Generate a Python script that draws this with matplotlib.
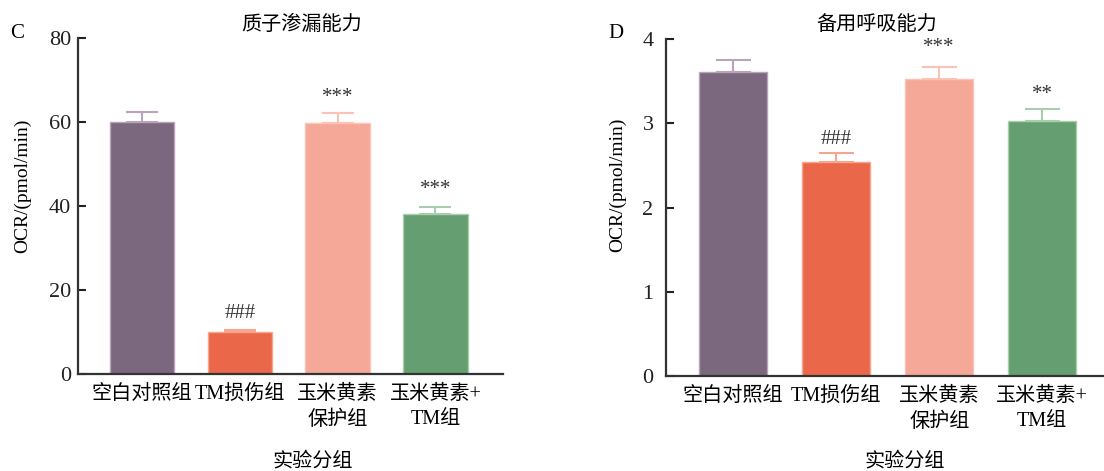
import matplotlib
matplotlib.use("Agg")
import matplotlib.pyplot as plt

plt.rcParams['font.family'] = ['Liberation Serif', 'Noto Sans CJK SC']
plt.rcParams['axes.unicode_minus'] = False

categories = ["空白对照组", "TM损伤组", "玉米黄素\n保护组", "玉米黄素+\nTM组"]
colors = ["#7B687F", "#EA6749", "#F5A898", "#659E70"]
err_colors = ["#B8A3BA", "#F7A58F", "#FBC3B6", "#A9CDAD"]

# Panel C: proton leak
leak_mean = [59.9, 9.9, 59.8, 38.0]
leak_err = [2.6, 0.6, 2.4, 1.7]
leak_marks = ["", "###", "***", "***"]
leak_mark_y = [None, 14.5, 65.8, 44.0]
leak_ticks = [0, 20, 40, 60, 80]

# Panel D: spare respiratory capacity
spare_mean = [3.61, 2.54, 3.53, 3.03]
spare_err = [0.14, 0.105, 0.14, 0.14]
spare_marks = ["", "###", "***", "**"]
spare_mark_y = [None, 2.81, 3.90, 3.35]
spare_ticks = [0, 1, 2, 3, 4]

W, H = 1104, 471
fig = plt.figure(figsize=(W / 100, H / 100), dpi=100)

def panel(rect, means, errs, marks, mark_y, ticks, ylim, xlim, title, letter, letter_pos,
          capsize, ylabel_xy, title_x, xlabel_x, tickpad):
    ax = fig.add_axes(rect)
    x = list(range(len(categories)))
    ax.bar(x, means, width=0.66, color=colors, edgecolor=err_colors, linewidth=1.0, zorder=2)
    for i in x:
        ax.errorbar(i, means[i], yerr=[[0], [errs[i]]], fmt='none', ecolor=err_colors[i],
                    elinewidth=1.5, capsize=capsize, capthick=1.5, zorder=3)
        if marks[i]:
            ax.text(i, mark_y[i], marks[i], ha='center', va='center', fontsize=15, color='#333333')
    ax.set_xlim(*xlim)
    ax.set_ylim(*ylim)
    ax.set_yticks(ticks)
    ax.set_yticklabels([str(t) for t in ticks], fontsize=16)
    ax.set_xticks(x)
    ax.set_xticklabels(categories, fontsize=14.5, linespacing=1.45, va='top')
    ax.tick_params(axis='x', length=0, pad=8)
    ax.tick_params(axis='y', length=6, width=1.5, direction='in', pad=tickpad, colors='#222222')
    for s in ['top', 'right']:
        ax.spines[s].set_visible(False)
    for s in ['left', 'bottom']:
        ax.spines[s].set_linewidth(1.6)
        ax.spines[s].set_color('#333333')
    fig.text(ylabel_xy[0], ylabel_xy[1], "OCR/(pmol/min)", rotation=90, ha='center', va='center',
             fontsize=14)
    fig.text(title_x, 1 - 25 / H, title, ha='center', va='center', fontsize=14.5)
    fig.text(letter_pos[0], letter_pos[1], letter, ha='left', va='center', fontsize=15)
    fig.text(xlabel_x, 1 - 462 / H, "实验分组", ha='center', va='center', fontsize=14.5)
    return ax

panel([78 / W, 1 - 374 / H, (503 - 78) / W, (374 - 38) / H],
      leak_mean, leak_err, leak_marks, leak_mark_y, leak_ticks, (0, 80), (-0.654, 3.69),
      "质子渗漏能力", "C", (10 / W, 1 - 33 / H), 11.5, (23 / W, 1 - 186 / H), 302 / W, 313 / W, 5)

panel([666 / W, 1 - 376 / H, (1104 - 666) / W, (376 - 39.3) / H],
      spare_mean, spare_err, spare_marks, spare_mark_y, spare_ticks, (0, 4), (-0.653, 3.6),
      "备用呼吸能力", "D", (608 / W, 1 - 33 / H), 12.6, (618 / W, 1 - 185 / H), 877 / W, 905 / W, 9)

fig.savefig("out.png", dpi=100)
